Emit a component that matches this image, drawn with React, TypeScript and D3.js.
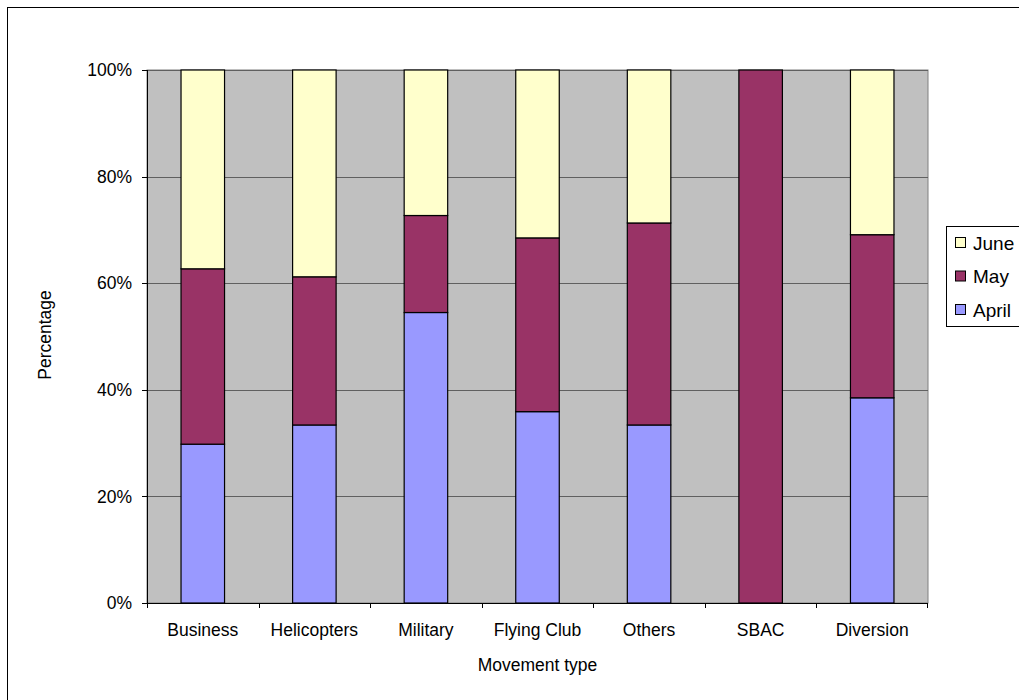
import React from "react";
import * as d3 from "d3";

// Movement types and monthly shares (percent of each type's total)
const categories = ["Business", "Helicopters", "Military", "Flying Club", "Others", "SBAC", "Diversion"];
const april = [29.8, 33.4, 54.5, 35.9, 33.4, 0, 38.5];
const may = [32.9, 27.8, 18.2, 32.6, 37.9, 100, 30.6];
const june = [37.3, 38.8, 27.3, 31.5, 28.7, 0, 30.9];
const seriesNames = ["April", "May", "June"];
const seriesColors = ["#9999FF", "#993366", "#FFFFCC"];
const yTicks = [0, 20, 40, 60, 80, 100];

const W = 1019;
const H = 700;
const plot = { left: 147, top: 70, right: 928, bottom: 603 };
const FONT = "'Liberation Sans', Arial, sans-serif";
const AXIS_FS = 17.5;
const LEGEND_FS = 19;

export default function App() {
  const x = d3
    .scaleBand<string>()
    .domain(categories)
    .range([plot.left, plot.right])
    .paddingInner(0.61)
    .paddingOuter(0.305);
  const xOuter = d3.scaleBand<string>().domain(categories).range([plot.left, plot.right]);
  const y = d3.scaleLinear().domain([0, 100]).range([plot.bottom, plot.top]);

  const rows = categories.map((c, i) => ({ cat: c, April: april[i], May: may[i], June: june[i] }));
  const stacked = d3.stack<any>().keys(seriesNames)(rows);

  const legendItems = [...seriesNames].reverse();

  return (
    <div style={{ position: "absolute", left: 0, top: 0 }}>
      <svg width={W} height={H} style={{ display: "block", fontFamily: FONT }}>
        <rect x={0} y={0} width={W} height={H} fill="#fff" />
        <rect x={7.5} y={7.5} width={W + 20} height={H + 20} fill="none" stroke="#000" strokeWidth={1} />

        {/* plot area */}
        <rect
          x={plot.left}
          y={plot.top}
          width={plot.right - plot.left}
          height={plot.bottom - plot.top}
          fill="#C0C0C0"
          stroke="#808080"
          strokeWidth={1}
        />
        {yTicks.slice(1).map((t) => (
          <line
            key={t}
            x1={plot.left}
            x2={plot.right}
            y1={Math.round(y(t)) + 0.5}
            y2={Math.round(y(t)) + 0.5}
            stroke="#606060"
            strokeWidth={1}
          />
        ))}

        {/* stacked bars */}
        {stacked.map((s, si) =>
          s.map((d, i) => {
            const h = y(d[0]) - y(d[1]);
            if (h <= 0) return null;
            return (
              <rect
                key={si + "-" + i}
                x={x(categories[i])!}
                y={y(d[1])}
                width={x.bandwidth()}
                height={h}
                fill={seriesColors[si]}
                stroke="#000"
                strokeWidth={1.2}
              />
            );
          })
        )}

        {/* axes */}
        <line x1={plot.left + 0.5} x2={plot.left + 0.5} y1={plot.top} y2={plot.bottom} stroke="#000" />
        <line x1={plot.left} x2={plot.right} y1={plot.bottom + 0.5} y2={plot.bottom + 0.5} stroke="#000" />
        {yTicks.map((t) => (
          <g key={t}>
            <line x1={plot.left - 5} x2={plot.left} y1={Math.round(y(t)) + 0.5} y2={Math.round(y(t)) + 0.5} stroke="#000" />
            <text x={plot.left - 15} y={y(t)} dy="0.35em" textAnchor="end" fontSize={AXIS_FS} fill="#000">
              {t}%
            </text>
          </g>
        ))}
        {categories.map((c) => (
          <line
            key={"t" + c}
            x1={Math.round(xOuter(c)!) + 0.5}
            x2={Math.round(xOuter(c)!) + 0.5}
            y1={plot.bottom}
            y2={plot.bottom + 5}
            stroke="#000"
          />
        ))}
        <line x1={plot.right - 0.5} x2={plot.right - 0.5} y1={plot.bottom} y2={plot.bottom + 5} stroke="#000" />
        {categories.map((c) => (
          <text
            key={"l" + c}
            x={xOuter(c)! + xOuter.bandwidth() / 2}
            y={630}
            dy="0.35em"
            textAnchor="middle"
            fontSize={AXIS_FS}
            fill="#000"
          >
            {c}
          </text>
        ))}
        <text x={(plot.left + plot.right) / 2} y={665} dy="0.35em" textAnchor="middle" fontSize={AXIS_FS} fill="#000">
          Movement type
        </text>
        <text
          transform={`translate(45, 335) rotate(-90)`}
          dy="0.35em"
          textAnchor="middle"
          fontSize={AXIS_FS}
          fill="#000"
        >
          Percentage
        </text>

        {/* legend */}
        <rect x={946.5} y={226.5} width={100} height={100} fill="#fff" stroke="#000" />
        {legendItems.map((name, i) => {
          const cy = 243 + i * 33.5;
          const color = seriesColors[seriesNames.indexOf(name)];
          return (
            <g key={name}>
              <rect x={955.5} y={cy - 5.5} width={10} height={10} fill={color} stroke="#000" />
              <text x={973} y={cy} dy="0.35em" fontSize={LEGEND_FS} fill="#000">
                {name}
              </text>
            </g>
          );
        })}
      </svg>
    </div>
  );
}
